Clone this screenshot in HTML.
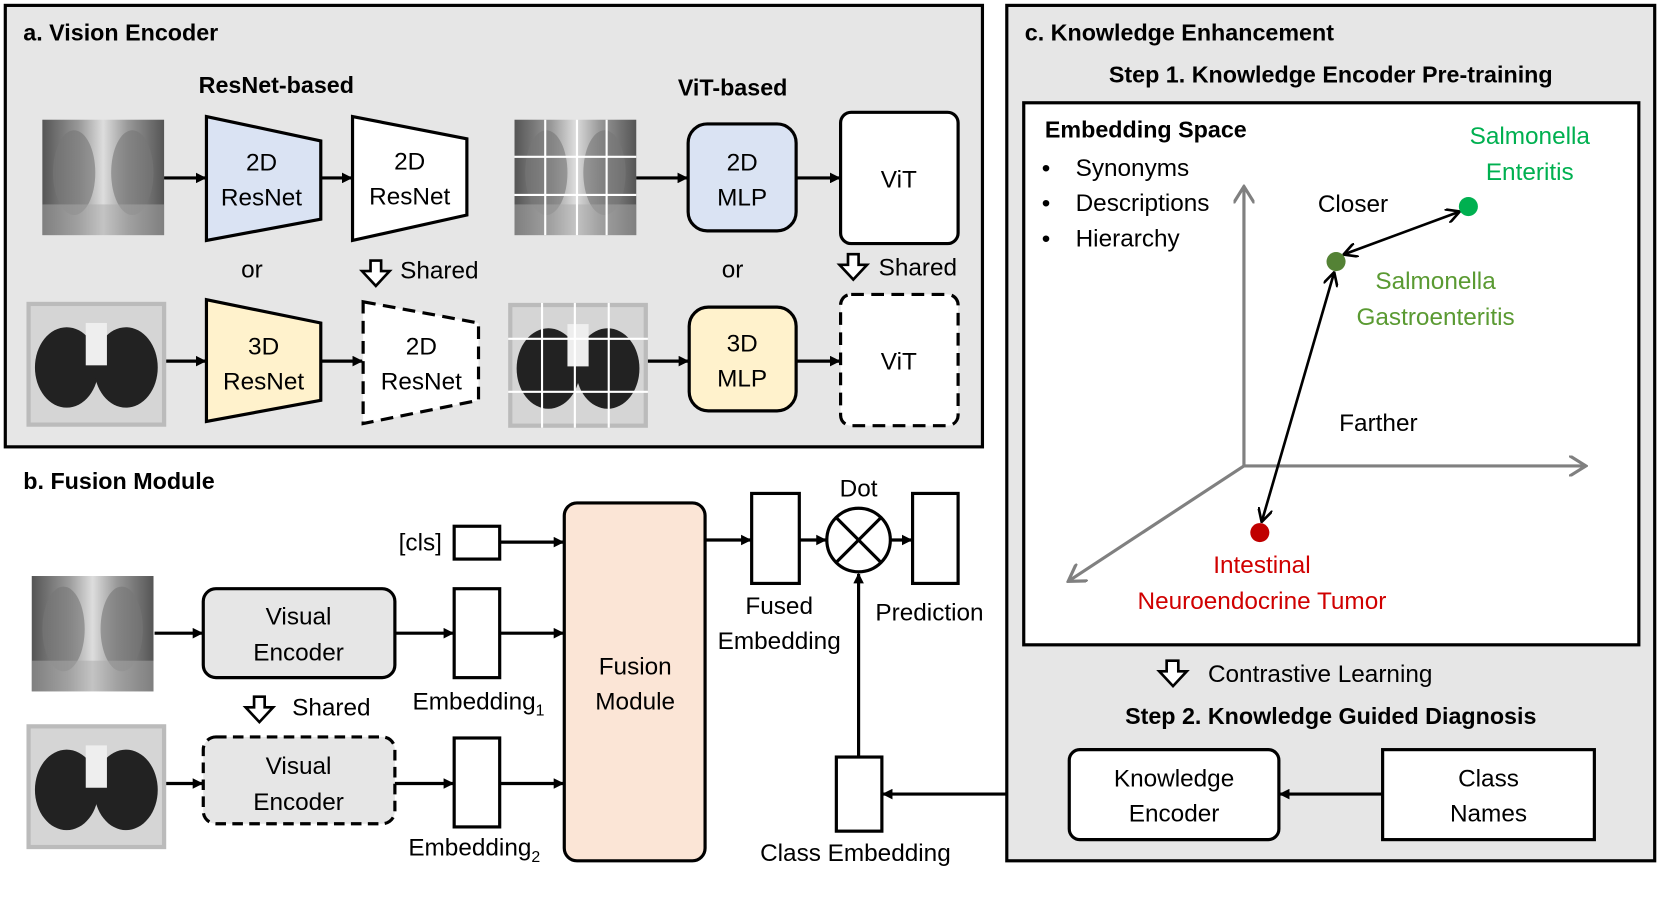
<!DOCTYPE html>
<html><head><meta charset="utf-8"><style>html,body{margin:0;padding:0;background:#fff}svg{display:block}</style></head><body>
<svg width="1660" height="899" viewBox="0 0 1568 849" xmlns="http://www.w3.org/2000/svg" font-family="Liberation Sans, sans-serif">
<defs>
<marker id="ah" markerWidth="10" markerHeight="10" refX="9" refY="5" orient="auto" markerUnits="userSpaceOnUse"><path d="M0,0 L10,5 L0,10 Z" fill="#000"/></marker>
<marker id="ahs" markerWidth="14" markerHeight="14" refX="12" refY="7" orient="auto-start-reverse" markerUnits="userSpaceOnUse"><path d="M0,0 L13,7 L0,14" fill="none" stroke="#000" stroke-width="2.5"/></marker>
<marker id="ga" markerWidth="18" markerHeight="20" refX="16" refY="10" orient="auto" markerUnits="userSpaceOnUse"><path d="M0,0 L16,10 L0,20" fill="none" stroke="#808080" stroke-width="3"/></marker>
<linearGradient id="xr" x1="0" x2="1"><stop offset="0" stop-color="#555"/><stop offset="0.3" stop-color="#999"/><stop offset="0.5" stop-color="#ddd"/><stop offset="0.7" stop-color="#999"/><stop offset="1" stop-color="#555"/></linearGradient>
<g id="xray"><rect width="115" height="109" fill="url(#xr)"/><ellipse cx="30" cy="50" rx="20" ry="40" fill="#777" opacity=".6"/><ellipse cx="85" cy="50" rx="20" ry="40" fill="#777" opacity=".6"/><rect y="80" width="115" height="29" fill="#aaa" opacity=".5"/></g>
<g id="ct"><rect width="132" height="118" fill="#bbb"/><rect x="4" y="4" width="124" height="110" fill="#d5d5d5"/><ellipse cx="38" cy="62" rx="30" ry="38" fill="#222"/><ellipse cx="94" cy="62" rx="30" ry="38" fill="#222"/><rect x="56" y="20" width="20" height="40" fill="#eee"/></g>
</defs>
<g font-size="23" text-anchor="middle">
<!-- panel a -->
<rect x="5" y="5" width="923" height="417" fill="#e6e6e6" stroke="#000" stroke-width="3"/>
<text x="22" y="38" font-weight="bold" font-size="22" text-anchor="start">a. Vision Encoder</text>
<text x="261" y="88" font-weight="bold" font-size="22">ResNet-based</text>
<text x="692" y="90" font-weight="bold" font-size="22">ViT-based</text>
<use href="#xray" x="40" y="113"/>
<use href="#ct" x="25" y="285"/>
<polygon points="195,110 303,133 303,207 195,227" fill="#dae3f3" stroke="#000" stroke-width="3"/>
<text x="247" y="161">2D</text><text x="247" y="194">ResNet</text>
<polygon points="333,110 441,131 441,203 333,227" fill="#fff" stroke="#000" stroke-width="3"/>
<text x="387" y="160">2D</text><text x="387" y="193">ResNet</text>
<line x1="155" y1="168" x2="194" y2="168" stroke="#000" stroke-width="3" marker-end="url(#ah)"/>
<line x1="303" y1="168" x2="332" y2="168" stroke="#000" stroke-width="3" marker-end="url(#ah)"/>
<text x="238" y="262">or</text>
<polygon points="350,246 360,246 360,256 368,256 355,270 342,256 350,256" fill="#fff" stroke="#000" stroke-width="2.5"/>
<text x="415" y="263">Shared</text>
<polygon points="195,283 303,305 303,378 195,398" fill="#fff2cc" stroke="#000" stroke-width="3"/>
<text x="249" y="335">3D</text><text x="249" y="368">ResNet</text>
<polygon points="343,285 452,305 452,378 343,400" fill="#fff" stroke="#000" stroke-width="3" stroke-dasharray="12,7"/>
<text x="398" y="335">2D</text><text x="398" y="368">ResNet</text>
<line x1="157" y1="341" x2="194" y2="341" stroke="#000" stroke-width="3" marker-end="url(#ah)"/>
<line x1="303" y1="341" x2="342" y2="341" stroke="#000" stroke-width="3" marker-end="url(#ah)"/>
<use href="#xray" x="486" y="113"/>
<g stroke="#fff" stroke-width="2"><line x1="515" y1="113" x2="515" y2="222"/><line x1="545" y1="113" x2="545" y2="222"/><line x1="573" y1="113" x2="573" y2="222"/><line x1="486" y1="148" x2="601" y2="148"/><line x1="486" y1="184" x2="601" y2="184"/></g>
<use href="#ct" x="480" y="286"/>
<g stroke="#fff" stroke-width="2"><line x1="512" y1="286" x2="512" y2="404"/><line x1="543" y1="286" x2="543" y2="404"/><line x1="575" y1="286" x2="575" y2="404"/><line x1="480" y1="320" x2="612" y2="320"/><line x1="480" y1="370" x2="612" y2="370"/></g>
<rect x="650" y="117" width="102" height="101" rx="18" fill="#dae3f3" stroke="#000" stroke-width="3"/>
<text x="701" y="161">2D</text><text x="701" y="194">MLP</text>
<rect x="794" y="106" width="111" height="124" rx="10" fill="#fff" stroke="#000" stroke-width="3"/>
<text x="849" y="177">ViT</text>
<line x1="601" y1="168" x2="649" y2="168" stroke="#000" stroke-width="3" marker-end="url(#ah)"/>
<line x1="752" y1="168" x2="793" y2="168" stroke="#000" stroke-width="3" marker-end="url(#ah)"/>
<text x="692" y="262">or</text>
<polygon points="801,240 811,240 811,250 819,250 806,264 793,250 801,250" fill="#fff" stroke="#000" stroke-width="2.5"/>
<text x="867" y="260">Shared</text>
<rect x="651" y="290" width="101" height="98" rx="18" fill="#fff2cc" stroke="#000" stroke-width="3"/>
<text x="701" y="332">3D</text><text x="701" y="365">MLP</text>
<rect x="794" y="278" width="111" height="124" rx="10" fill="#fff" stroke="#000" stroke-width="3" stroke-dasharray="12,7"/>
<text x="849" y="349">ViT</text>
<line x1="612" y1="341" x2="650" y2="341" stroke="#000" stroke-width="3" marker-end="url(#ah)"/>
<line x1="752" y1="341" x2="793" y2="341" stroke="#000" stroke-width="3" marker-end="url(#ah)"/>

<!-- panel b -->
<text x="22" y="462" font-weight="bold" font-size="22" text-anchor="start">b. Fusion Module</text>
<use href="#xray" x="30" y="544"/>
<use href="#ct" x="25" y="684"/>
<rect x="192" y="556" width="181" height="84" rx="12" fill="#e6e6e6" stroke="#000" stroke-width="3"/>
<text x="282" y="590">Visual</text><text x="282" y="624">Encoder</text>
<rect x="192" y="696" width="181" height="82" rx="12" fill="#e6e6e6" stroke="#000" stroke-width="3" stroke-dasharray="10,6"/>
<text x="282" y="731">Visual</text><text x="282" y="765">Encoder</text>
<polygon points="240,658 250,658 250,668 258,668 245,682 232,668 240,668" fill="#fff" stroke="#000" stroke-width="2.5"/>
<text x="313" y="676">Shared</text>
<line x1="146" y1="598" x2="191" y2="598" stroke="#000" stroke-width="3" marker-end="url(#ah)"/>
<line x1="373" y1="598" x2="428" y2="598" stroke="#000" stroke-width="3" marker-end="url(#ah)"/>
<line x1="157" y1="740" x2="191" y2="740" stroke="#000" stroke-width="3" marker-end="url(#ah)"/>
<line x1="373" y1="740" x2="428" y2="740" stroke="#000" stroke-width="3" marker-end="url(#ah)"/>
<rect x="429" y="497" width="43" height="31" fill="#fff" stroke="#000" stroke-width="3"/>
<text x="397" y="520">[cls]</text>
<rect x="429" y="556" width="43" height="84" fill="#fff" stroke="#000" stroke-width="3"/>
<rect x="429" y="697" width="43" height="84" fill="#fff" stroke="#000" stroke-width="3"/>
<text x="452" y="670">Embedding<tspan font-size="15" dy="6">1</tspan></text>
<text x="448" y="808">Embedding<tspan font-size="15" dy="6">2</tspan></text>
<line x1="472" y1="512" x2="532" y2="512" stroke="#000" stroke-width="3" marker-end="url(#ah)"/>
<line x1="472" y1="598" x2="532" y2="598" stroke="#000" stroke-width="3" marker-end="url(#ah)"/>
<line x1="472" y1="740" x2="532" y2="740" stroke="#000" stroke-width="3" marker-end="url(#ah)"/>
<rect x="533" y="475" width="133" height="338" rx="12" fill="#fbe5d6" stroke="#000" stroke-width="3"/>
<text x="600" y="637">Fusion</text><text x="600" y="670">Module</text>
<line x1="666" y1="510" x2="709" y2="510" stroke="#000" stroke-width="3" marker-end="url(#ah)"/>
<rect x="710" y="466" width="45" height="85" fill="#fff" stroke="#000" stroke-width="3"/>
<line x1="755" y1="510" x2="780" y2="510" stroke="#000" stroke-width="3" marker-end="url(#ah)"/>
<circle cx="811" cy="510" r="30" fill="#fff" stroke="#000" stroke-width="3"/>
<line x1="790" y1="489" x2="832" y2="531" stroke="#000" stroke-width="3"/><line x1="832" y1="489" x2="790" y2="531" stroke="#000" stroke-width="3"/>
<line x1="841" y1="510" x2="861" y2="510" stroke="#000" stroke-width="3" marker-end="url(#ah)"/>
<rect x="862" y="466" width="43" height="85" fill="#fff" stroke="#000" stroke-width="3"/>
<text x="811" y="469">Dot</text>
<text x="736" y="580">Fused</text><text x="736" y="613">Embedding</text>
<text x="878" y="586">Prediction</text>
<rect x="790" y="715" width="43" height="70" fill="#fff" stroke="#000" stroke-width="3"/>
<line x1="811" y1="715" x2="811" y2="542" stroke="#000" stroke-width="3" marker-end="url(#ah)"/>
<text x="808" y="813">Class Embedding</text>
<line x1="1010" y1="750" x2="834" y2="750" stroke="#000" stroke-width="3" marker-end="url(#ah)"/>

<!-- panel c -->
<rect x="951" y="5" width="612" height="808" fill="#e6e6e6" stroke="#000" stroke-width="3"/>
<text x="968" y="38" font-weight="bold" font-size="22" text-anchor="start">c. Knowledge Enhancement</text>
<text x="1257" y="78" font-weight="bold" font-size="22">Step 1. Knowledge Encoder Pre-training</text>
<rect x="967" y="97" width="581" height="512" fill="#fff" stroke="#000" stroke-width="3"/>
<text x="987" y="130" font-weight="bold" font-size="22" text-anchor="start">Embedding Space</text>
<g text-anchor="start"><text x="984" y="166">•</text><text x="1016" y="166">Synonyms</text><text x="984" y="199">•</text><text x="1016" y="199">Descriptions</text><text x="984" y="233">•</text><text x="1016" y="233">Hierarchy</text></g>
<g stroke="#808080" stroke-width="3" fill="none">
<line x1="1175" y1="440" x2="1175" y2="176" marker-end="url(#ga)"/>
<line x1="1175" y1="440" x2="1498" y2="440" marker-end="url(#ga)"/>
<line x1="1175" y1="440" x2="1009" y2="549" marker-end="url(#ga)"/>
</g>
<line x1="1270" y1="240" x2="1378" y2="200" stroke="#000" stroke-width="2.5" marker-start="url(#ahs)" marker-end="url(#ahs)"/>
<line x1="1260" y1="258" x2="1192" y2="492" stroke="#000" stroke-width="2.5" marker-start="url(#ahs)" marker-end="url(#ahs)"/>
<circle cx="1387" cy="195" r="9" fill="#00b050"/>
<circle cx="1262" cy="247" r="9" fill="#548235"/>
<circle cx="1190" cy="503" r="9" fill="#c00000"/>
<text x="1445" y="136" fill="#00b050">Salmonella</text><text x="1445" y="170" fill="#00b050">Enteritis</text>
<text x="1278" y="200">Closer</text>
<text x="1356" y="273" fill="#5a9a32">Salmonella</text><text x="1356" y="307" fill="#5a9a32">Gastroenteritis</text>
<text x="1302" y="407">Farther</text>
<text x="1192" y="541" fill="#d00000">Intestinal</text><text x="1192" y="575" fill="#d00000">Neuroendocrine Tumor</text>
<polygon points="1102,624 1113,624 1113,634 1121,634 1108,648 1095,634 1102,634" fill="#fff" stroke="#000" stroke-width="2.5"/>
<text x="1141" y="644" text-anchor="start">Contrastive Learning</text>
<text x="1257" y="684" font-weight="bold" font-size="22">Step 2. Knowledge Guided Diagnosis</text>
<rect x="1010" y="708" width="198" height="85" rx="10" fill="#fff" stroke="#000" stroke-width="3"/>
<text x="1109" y="743">Knowledge</text><text x="1109" y="776">Encoder</text>
<rect x="1306" y="708" width="200" height="85" fill="#fff" stroke="#000" stroke-width="3"/>
<text x="1406" y="743">Class</text><text x="1406" y="776">Names</text>
<line x1="1306" y1="750" x2="1209" y2="750" stroke="#000" stroke-width="3" marker-end="url(#ah)"/>
</g>
</svg>
</body></html>
